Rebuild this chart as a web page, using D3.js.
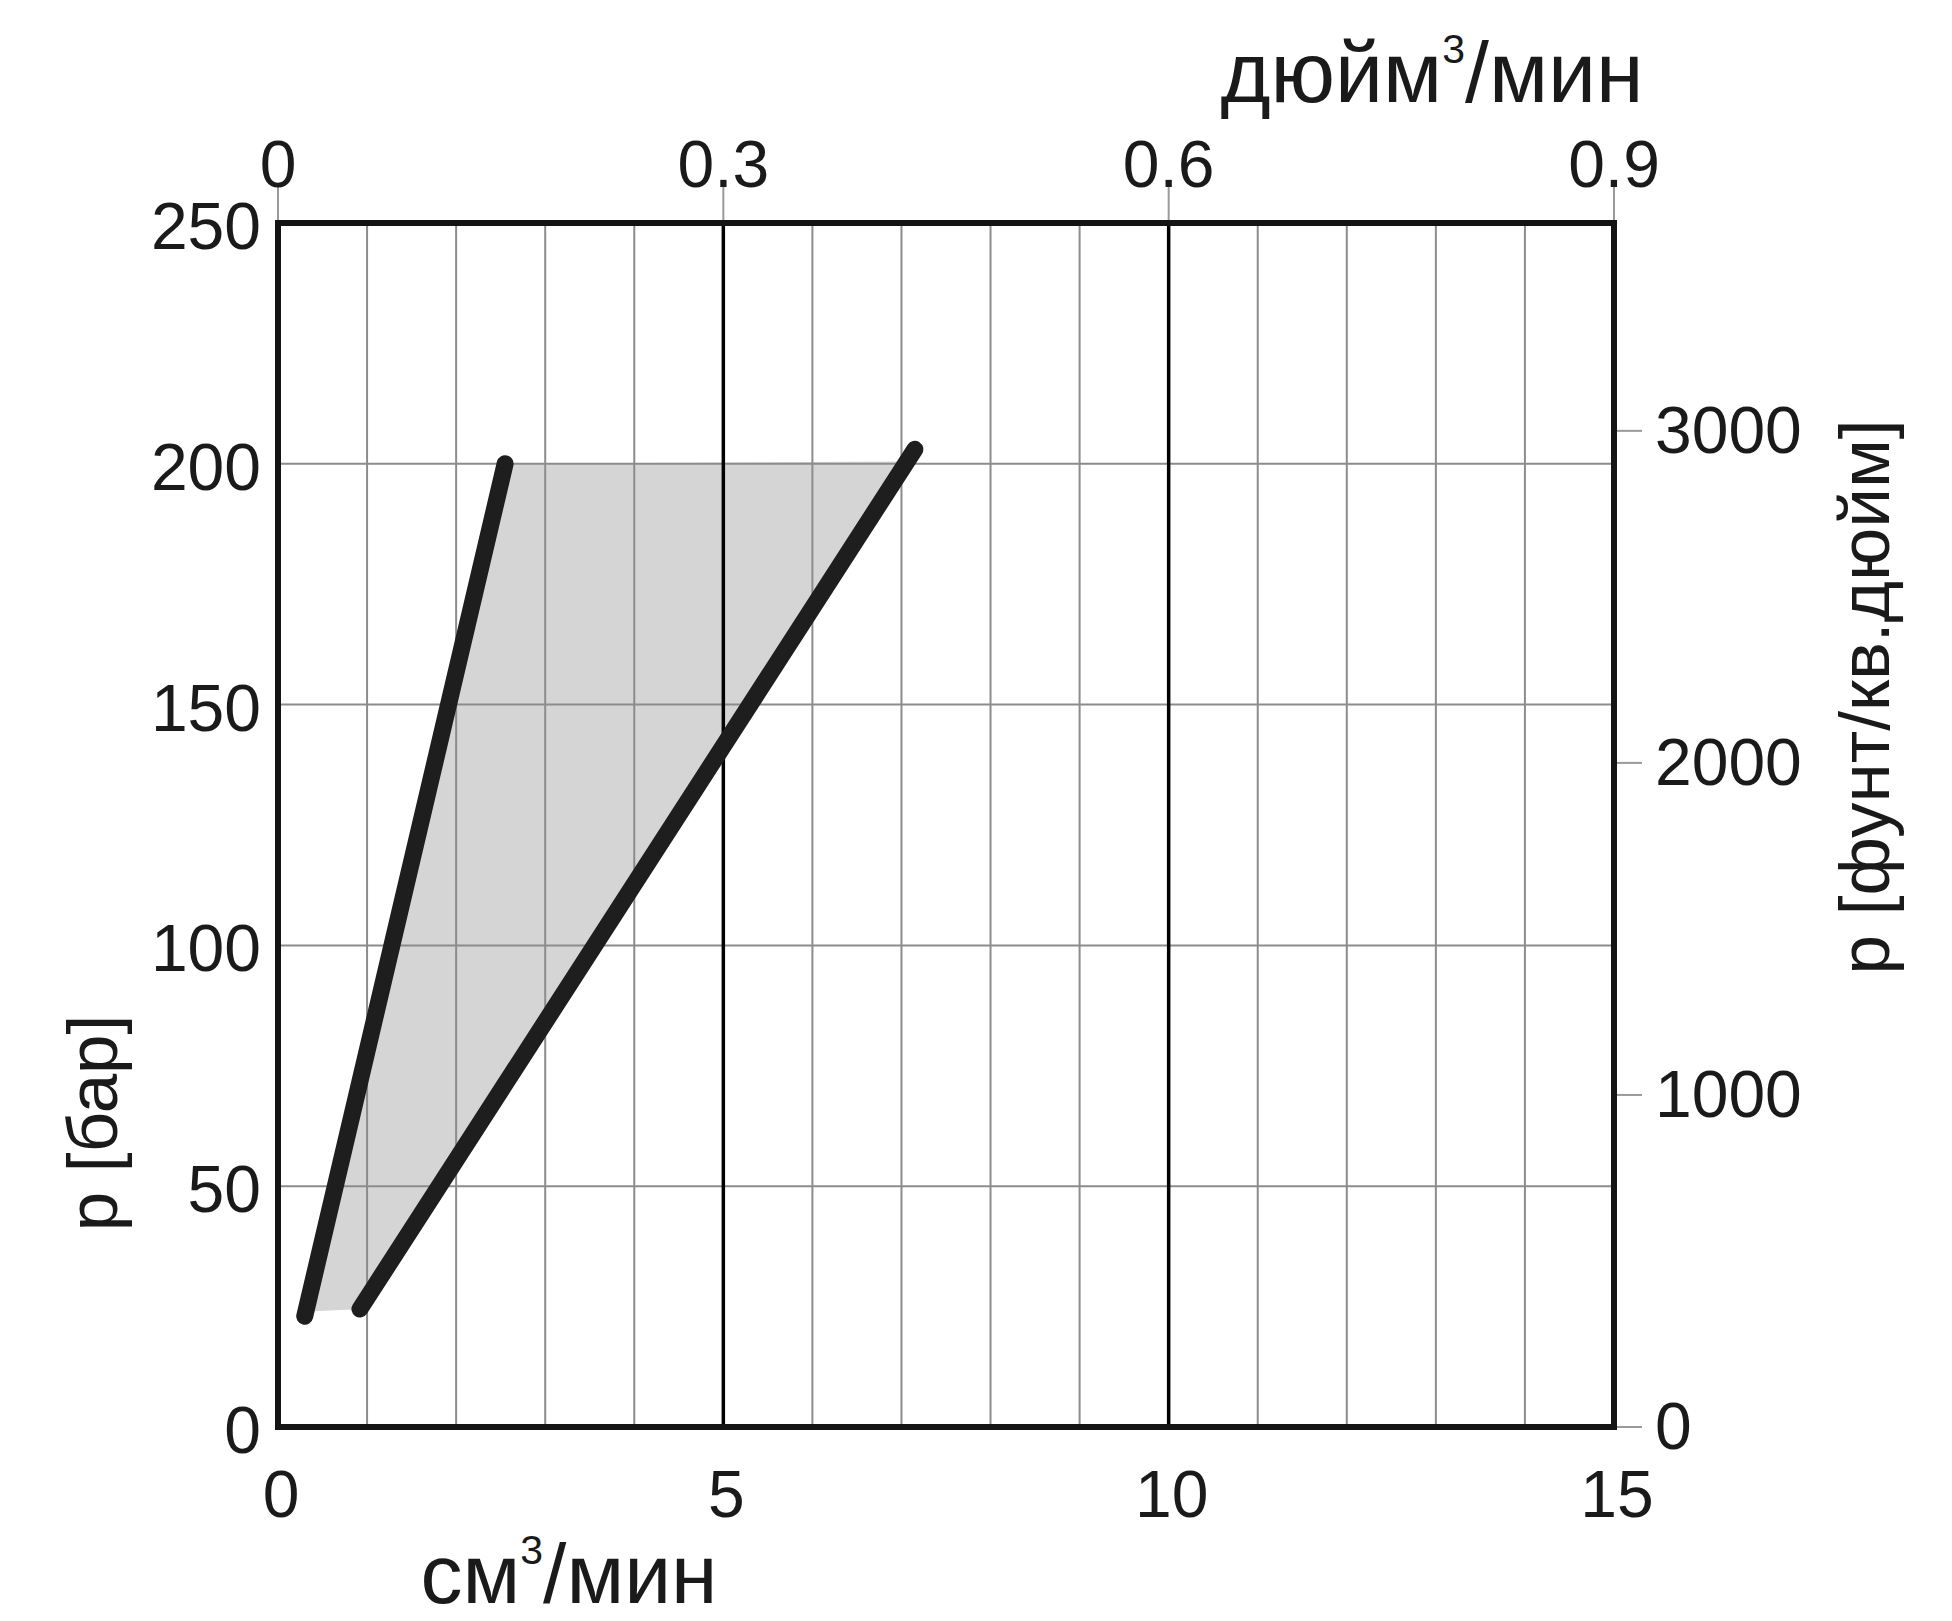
<!DOCTYPE html>
<html>
<head>
<meta charset="utf-8">
<script src="https://cdn.jsdelivr.net/npm/d3@7/dist/d3.min.js"></script>
<style>
  html, body { margin: 0; padding: 0; background: #fff; }
  svg { display: block; }
  text { font-family: "Liberation Sans", Arial, sans-serif; fill: #1a1a1a; }
</style>
</head>
<body>
<svg id="chart" width="1952" height="1621"></svg>
<script>
// ---- data ----
const xTicks = [0, 5, 10, 15];                  // cm^3/min (bottom)
const xTopTicks = [0, 0.3, 0.6, 0.9];           // in^3/min (top)
const yTicks = [0, 50, 100, 150, 200, 250];     // bar (left)
const yRightTicks = [0, 1000, 2000, 3000];      // psi (right)
const minorX = [1, 2, 3, 4, 6, 7, 8, 9, 11, 12, 13, 14];
const majorX = [5, 10];
const gridY = [50, 100, 150, 200];
// curves: [flow cm^3/min, pressure bar]
const lineSteepX = [0.30, 2.55];
const lineSteepY = [23, 200];
const lineFlatX = [0.92, 7.15];
const lineFlatY = [24.5, 203];
const bandX = [0.35, 2.6, 6.95, 0.95];
const bandY = [24, 200, 200.5, 24.5];
const xTitle = "см";
const xTopTitle = "дюйм";
const yTitle = "p [бар]";
const yRightTitle = "p [фунт/кв.дюйм]";

// ---- layout ----
const L = 278, R = 1614, T = 223, B = 1427;
const svg = d3.select("#chart");

const x = d3.scaleLinear().domain([0, 15]).range([L, R]);
const xTop = d3.scaleLinear().domain([0, 0.9]).range([L, R]);
const y = d3.scaleLinear().domain([0, 250]).range([B, T]);
const yR = d3.scaleLinear().domain([0, 250 * 14.5038]).range([B, T]);

// band
const band = bandX.map((v, i) => [x(v), y(bandY[i])]);
svg.append("path").attr("d", "M" + band.join("L") + "Z")
  .attr("fill", "#d5d5d5");

// grid
const g = svg.append("g");
g.selectAll(".minx").data(minorX).join("line")
  .attr("x1", d => x(d)).attr("x2", d => x(d)).attr("y1", T).attr("y2", B)
  .attr("stroke", "#8c8c8c").attr("stroke-width", 2);
g.selectAll(".gy").data(gridY).join("line")
  .attr("x1", L).attr("x2", R).attr("y1", d => y(d)).attr("y2", d => y(d))
  .attr("stroke", "#8c8c8c").attr("stroke-width", 2);
svg.selectAll(".majx").data(majorX).join("line")
  .attr("x1", d => x(d)).attr("x2", d => x(d)).attr("y1", T).attr("y2", B)
  .attr("stroke", "#000").attr("stroke-width", 3.5);

// frame
svg.append("rect").attr("x", L).attr("y", T).attr("width", R - L).attr("height", B - T)
  .attr("fill", "none").attr("stroke", "#141414").attr("stroke-width", 6);

// tick marks outside
svg.selectAll(".tt").data(xTopTicks).join("line")
  .attr("x1", d => xTop(d)).attr("x2", d => xTop(d)).attr("y1", T - 3).attr("y2", T - 36)
  .attr("stroke", "#9a9a9a").attr("stroke-width", 2);
svg.selectAll(".rt").data(yRightTicks).join("line")
  .attr("x1", R + 3).attr("x2", R + 28).attr("y1", d => yR(d)).attr("y2", d => yR(d))
  .attr("stroke", "#9a9a9a").attr("stroke-width", 2);

// curves
const lineGen = d3.line().x(d => x(d[0])).y(d => y(d[1]));
[[lineSteepX, lineSteepY], [lineFlatX, lineFlatY]].forEach(([xs, ys]) => {
  svg.append("path").datum(xs.map((v, i) => [v, ys[i]]))
    .attr("d", lineGen).attr("fill", "none")
    .attr("stroke", "#1e1e1e").attr("stroke-width", 17).attr("stroke-linecap", "round");
});

// tick labels
const FS = 66;
svg.selectAll(".yl").data(yTicks).join("text")
  .attr("x", L - 17).attr("y", d => y(d) + 26)
  .attr("text-anchor", "end").attr("font-size", FS).text(d => d);
svg.selectAll(".xl").data(xTicks).join("text")
  .attr("x", d => x(d) + 3).attr("y", 1517)
  .attr("text-anchor", "middle").attr("font-size", FS).text(d => d);
svg.selectAll(".xtl").data(xTopTicks).join("text")
  .attr("x", d => xTop(d)).attr("y", 187)
  .attr("text-anchor", "middle").attr("font-size", FS).text(d => d);
svg.selectAll(".yrl").data(yRightTicks).join("text")
  .attr("x", 1655).attr("y", d => yR(d) + 22)
  .attr("text-anchor", "start").attr("font-size", FS).text(d => d);

// titles
function unitTitle(sel, base) {
  sel.append("tspan").text(base);
  sel.append("tspan").attr("font-size", 41).attr("dy", -39).text("3");
  sel.append("tspan").attr("dy", 39).text("/мин");
}
unitTitle(svg.append("text").attr("x", 569).attr("y", 1603)
  .attr("text-anchor", "middle").attr("font-size", 84), xTitle);
unitTitle(svg.append("text").attr("x", 1432).attr("y", 102)
  .attr("text-anchor", "middle").attr("font-size", 86), xTopTitle);
svg.append("text").attr("transform", "translate(117,1123) rotate(-90)")
  .attr("text-anchor", "middle").attr("font-size", 71).text(yTitle);
svg.append("text").attr("transform", "translate(1889,697) rotate(-90)")
  .attr("text-anchor", "middle").attr("font-size", 71).text(yRightTitle);
</script>
</body>
</html>
